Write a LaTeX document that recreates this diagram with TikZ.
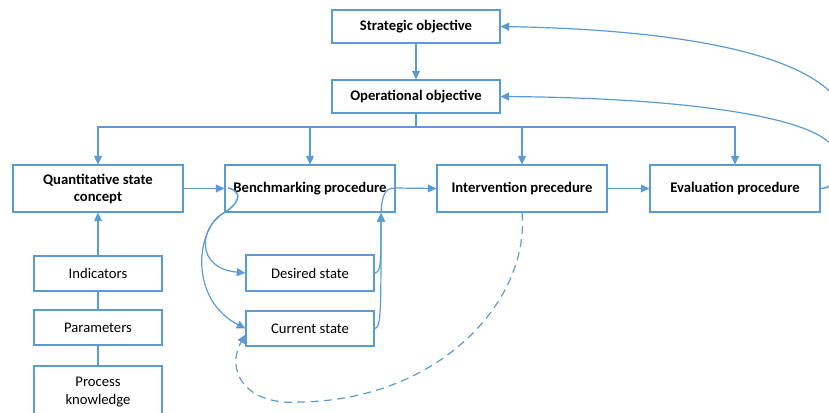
\documentclass[tikz,border=0pt]{standalone}
\usepackage{fontspec}
\setmainfont{Carlito}
\usetikzlibrary{arrows.meta}
\definecolor{flow}{RGB}{91,155,213}
\begin{document}
\begin{tikzpicture}[x=0.75pt,y=-0.75pt,
  every node/.style={font=\fontsize{11}{13}\selectfont, text=black},
  bigbox/.style={draw=flow, line width=0.8pt, minimum width=127.5pt, minimum height=35.25pt, align=center, inner sep=1pt, font=\fontsize{11}{12.75}\selectfont\bfseries},
  topbox/.style={bigbox, minimum width=126pt, minimum height=24.75pt},
  smallbox/.style={draw=flow, line width=0.8pt, minimum width=96pt, minimum height=26.25pt, align=center, inner sep=1pt, font=\fontsize{11}{13.5}\selectfont},
  link/.style={draw=flow, line width=0.9pt},
  arr/.style={link, -{Triangle[length=6.5pt,width=6pt]}},
  ret/.style={arr, dash pattern=on 6pt off 4pt}]
\useasboundingbox (0,0) rectangle (829,412);
\clip (0,0) rectangle (829,412);

% objectives
\node[topbox] (strat) at (416,26.5) {Strategic objective};
\node[topbox] (oper)  at (416,96.5) {Operational objective};

% procedure chain
\node[bigbox] (quant)  at (98,188.5)  {Quantitative state\\concept};
\node[bigbox] (bench)  at (310,188.5) {Benchmarking procedure};
\node[bigbox] (interv) at (522,188.5) {Intervention precedure};
\node[bigbox] (eval)   at (735,188.5) {Evaluation procedure};

% inputs of the state concept
\node[smallbox] (ind)  at (98,273.5) {Indicators};
\node[smallbox] (par)  at (98,327.5) {Parameters};
\node[smallbox, minimum height=39pt] (proc) at (98,392) {Process\\knowledge};

% states compared in benchmarking
\node[smallbox, minimum height=27pt] (des) at (310,273) {Desired state};
\node[smallbox] (cur) at (310,328.5) {Current state};

\coordinate (bus) at (416,127);
\coordinate (bjoin) at (381,213);
\coordinate (bstart) at (228,188);

% objective hierarchy and distribution bus
\draw[arr] (strat) -- (oper);
\draw[link] (oper.south) -- (bus);
\draw[arr] (bus) -| (quant.north);
\draw[arr] (bus) -| (bench.north);
\draw[arr] (bus) -| (interv.north);
\draw[arr] (bus) -| (eval.north);

% state concept inputs
\draw[arr] (ind) -- (quant);
\draw[link] (ind) -- (par);
\draw[link] (par) -- (proc);

% main chain
\draw[arr] (quant) -- (bench);
\draw[arr] (interv) -- (eval);
\draw[arr] (bjoin) .. controls (382,195) and (385,188) .. (395,188) -- (interv.west);

% benchmarking branches
\draw[arr] (bstart) .. controls (245,192) and (238,205) .. (222,214)
  .. controls (200,228) and (195,268) .. (des.west);
\draw[arr] (bstart) .. controls (245,192) and (238,205) .. (222,214)
  .. controls (195,232) and (190,300) .. (cur.west);
\draw[arr] (des.east) .. controls (381,273) and (381,262) .. (bjoin);
\draw[arr] (cur.east) .. controls (381,328) and (381,315) .. (bjoin);

% feedback from the intervention to the current state
\draw[ret] (interv.south) .. controls (530,300) and (440,400) .. (300,402)
  .. controls (245,406) and (225,370) .. ([yshift=-4.5pt]cur.west);

% feedback from the evaluation to the objectives
\draw[arr] (eval.east) .. controls (840,188) and (848,160) .. (848,130)
  .. controls (848,60) and (700,30) .. (strat.east);
\draw[arr] (eval.east) .. controls (838,188) and (840,170) .. (836,155)
  .. controls (834,120) and (700,98) .. (oper.east);
\end{tikzpicture}
\end{document}
